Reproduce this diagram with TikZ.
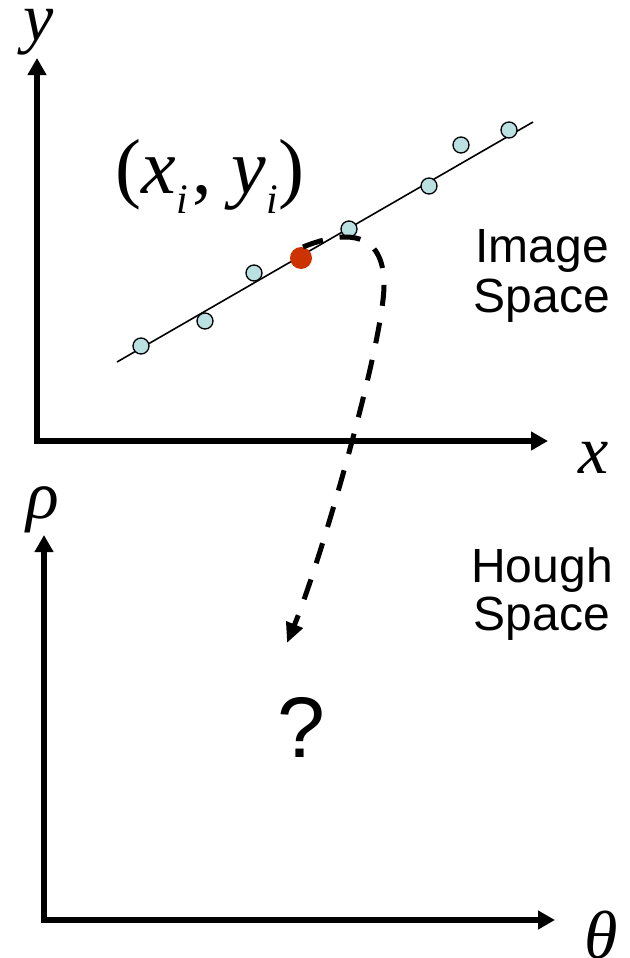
\documentclass[tikz,border=0pt]{standalone}
\usepackage{fontspec}
\setmainfont{Liberation Sans}
\newfontfamily\tms{Liberation Serif}
\usetikzlibrary{arrows.meta}
\definecolor{ptfill}{RGB}{186,224,226}
\definecolor{hot}{RGB}{204,51,0}
\newcommand{\subi}{\raisebox{-20pt}{\fontsize{42}{42}\selectfont\textit{i}}}
\begin{document}
\begin{tikzpicture}[x=1pt,y=-1pt,
  axis/.style={line width=6pt, line join=miter,
    {Triangle[length=17pt,width=18pt]}-{Triangle[length=17pt,width=18pt]}},
  fitline/.style={line width=1.6pt},
  pt/.style={circle, draw=black, line width=1.3pt, fill=ptfill,
    minimum size=16pt, inner sep=0pt},
  hotpt/.style={circle, fill=hot, minimum size=22pt, inner sep=0pt},
  mlab/.style={font=\tms\fontsize{68}{68}\selectfont, inner sep=0pt, anchor=base},
  plab/.style={font=\tms\fontsize{78}{78}\selectfont, inner sep=0pt, anchor=base},
  slab/.style={font=\fontsize{48}{48}\selectfont, inner sep=0pt, anchor=base},
  qlab/.style={font=\fontsize{86}{86}\selectfont, inner sep=0pt, anchor=base},
  maparrow/.style={line width=5pt, dash pattern=on 21pt off 17pt,
    -{Triangle[length=20pt,width=17pt]}}]
\useasboundingbox (0,0) rectangle (629,958);

% image space axes
\coordinate (ytip) at (37,58);
\coordinate (o1) at (37,441);
\coordinate (xtip) at (548,441);
\draw[axis] (ytip) -- (o1) -- (xtip);
\node[mlab] (ylab) at (39,41) {\textit{y}};
\node[mlab] (xlab) at (594,473) {\textit{x}};

% hough space axes
\coordinate (rtip) at (44,535);
\coordinate (o2) at (44,920);
\coordinate (ttip) at (555,920);
\draw[axis] (rtip) -- (o2) -- (ttip);
\node[mlab] (rholab) at (43,518) {\textit{ρ}};
\node[mlab] (thlab) at (601,958) {\textit{θ}};

% fitted line and points
\coordinate (l1) at (117,362);
\coordinate (l2) at (533,122);
\draw[fitline] (l1) -- (l2);
\node[pt] (p1) at (141,346) {};
\node[pt] (p2) at (205,321) {};
\node[pt] (p3) at (254,273) {};
\node[pt] (p4) at (349,229) {};
\node[pt] (p5) at (429,186) {};
\node[pt] (p6) at (461,145) {};
\node[pt] (p7) at (509,130) {};
\node[hotpt] (hp) at (301,258) {};

\node[plab] (ptlab) at (210,193) {(\textit{x}\subi\kern5pt, \textit{y}\subi)};

% mapping arrow
\coordinate (s) at (303,247);
\coordinate (t) at (287,643);
\draw[maparrow] (s) .. controls (345,230) and (384,230) .. (384,285)
  .. controls (384,340) and (322,558) .. (t);

% labels
\node[slab] (img1) at (542,262) {Image};
\node[slab] (img2) at (542,312) {Space};
\node[slab] (hou1) at (542,582) {Hough};
\node[slab] (hou2) at (542,630) {Space};
\node[qlab] (q) at (301,757) {?};
\end{tikzpicture}
\end{document}
